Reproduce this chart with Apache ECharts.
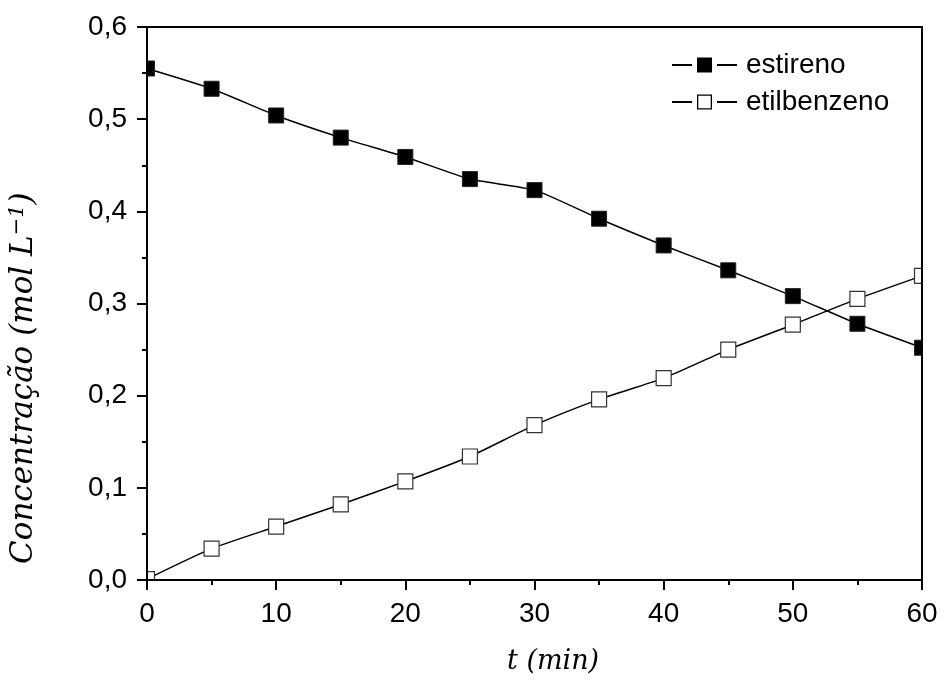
<!DOCTYPE html>
<html><head><meta charset="utf-8">
<script src="https://cdn.jsdelivr.net/npm/echarts@6/dist/echarts.min.js"></script>
<style>html,body{margin:0;padding:0;background:#fff}#c{width:944px;height:684px}</style>
</head><body><div id="c"></div>
<script>
var tempo = [0,5,10,15,20,25,30,35,40,45,50,55,60];
var estireno = [0.555,0.533,0.504,0.480,0.459,0.435,0.423,0.392,0.363,0.336,0.308,0.278,0.252];
var etilbenzeno = [0.001,0.034,0.058,0.082,0.107,0.134,0.168,0.196,0.219,0.250,0.277,0.305,0.330];
var seriesNames = ['estireno','etilbenzeno'];

function pairs(xs, ys){ return xs.map(function(x,i){return [x, ys[i]];}); }
var chart = echarts.init(document.getElementById('c'));
var G = {left:147, right:22, top:27, bottom:104};
var W = 944, H = 684;
var axisFont = {fontFamily:'Liberation Sans, Arial, sans-serif', fontSize:28, color:'#000'};
var nameFont = 'DejaVu Serif, Liberation Serif, serif';
// legend icons: line - square - line (with gaps), 65 x 15
var lines = 'M0 6.5L20 6.5L20 8.5L0 8.5Z M45 6.5L65 6.5L65 8.5L45 8.5Z ';
var iconFilled = 'path://' + lines + 'M25 0L40 0L40 15L25 15Z';
var iconHollow = 'path://' + lines + 'M25 0L40 0L40 15L25 15Z M26.3 1.3L26.3 13.7L38.7 13.7L38.7 1.3Z';
chart.setOption({
  animation:false,
  backgroundColor:'#fff',
  grid:G,
  legend:{
    data:[{name:seriesNames[0], icon:iconFilled, itemStyle:{color:'#000', borderWidth:0}},
          {name:seriesNames[1], icon:iconHollow, itemStyle:{color:'#000', borderWidth:0}}],
    orient:'vertical', left:667, top:46, itemWidth:65, itemHeight:15, itemGap:9,
    textStyle:{fontFamily:'Liberation Sans, Arial, sans-serif', fontSize:28, color:'#000', padding:[0,0,0,4]}
  },
  graphic:[
    {type:'rect', z:50, silent:true, shape:{x:0, y:0, width:G.left-1, height:H}, style:{fill:'#fff'}},
    {type:'rect', z:50, silent:true, shape:{x:W-G.right+1, y:0, width:G.right, height:H}, style:{fill:'#fff'}},
    {type:'rect', z:50, silent:true, shape:{x:0, y:H-G.bottom+1, width:W, height:G.bottom}, style:{fill:'#fff'}},
    {type:'text', z:60, left:507, top:648,
      style:{text:'t (min)', font:'italic 27px ' + nameFont, fill:'#000'}},
    {type:'text', z:60, rotation:Math.PI/2, x:7, y:564,
      style:{text:'{m|Concentração (mol L}{s|\u22121}{m|)}', fill:'#000',
        rich:{m:{fontFamily:nameFont, fontStyle:'italic', fontSize:31, fill:'#000'},
              s:{fontFamily:nameFont, fontStyle:'italic', fontSize:21, fill:'#000', verticalAlign:'top', padding:[0,0,12,0]}}}}
  ],
  xAxis:[{
    type:'value', min:0, max:60, interval:10, z:70,
    axisLine:{lineStyle:{color:'#000', width:2}},
    axisTick:{length:10, lineStyle:{color:'#000', width:2}},
    minorTick:{show:true, splitNumber:2, length:5, lineStyle:{color:'#000', width:2}},
    splitLine:{show:false},
    axisLabel:Object.assign({margin:20}, axisFont)
  },{
    type:'value', min:0, max:60, position:'top', z:70,
    axisLine:{show:true, onZero:false, lineStyle:{color:'#000', width:2}},
    axisTick:{show:false}, axisLabel:{show:false}, splitLine:{show:false}
  }],
  yAxis:[{
    type:'value', min:0, max:0.6, interval:0.1, z:70,
    axisLine:{show:true, lineStyle:{color:'#000', width:2}},
    axisTick:{show:true, length:10, lineStyle:{color:'#000', width:2}},
    minorTick:{show:true, splitNumber:2, length:5, lineStyle:{color:'#000', width:2}},
    splitLine:{show:false},
    axisLabel:Object.assign({margin:20, formatter:function(v){return v.toFixed(1).replace('.',',');}}, axisFont)
  },{
    type:'value', min:0, max:0.6, position:'right', z:70,
    axisLine:{show:true, onZero:false, lineStyle:{color:'#000', width:2}},
    axisTick:{show:false}, axisLabel:{show:false}, splitLine:{show:false}
  }],
  series:[{
    name:seriesNames[0], type:'line', data:pairs(tempo, estireno), smooth:0.2,
    symbol:'rect', symbolSize:15, clip:false,
    lineStyle:{color:'#000', width:1.5},
    itemStyle:{color:'#000', borderColor:'#222', borderWidth:1}
  },{
    name:seriesNames[1], type:'line', data:pairs(tempo, etilbenzeno), smooth:0.2,
    symbol:'rect', symbolSize:15, clip:false,
    lineStyle:{color:'#000', width:1.5},
    itemStyle:{color:'#fff', borderColor:'#333', borderWidth:1.2}
  }]
});
</script></body></html>
